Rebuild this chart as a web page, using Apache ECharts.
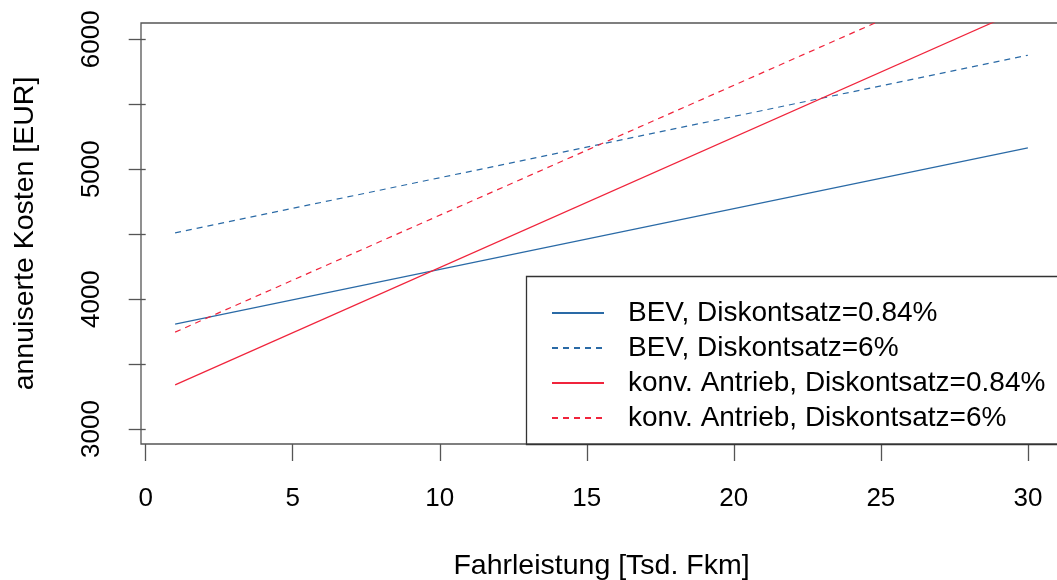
<!DOCTYPE html>
<html>
<head>
<meta charset="utf-8">
<script src="https://cdn.jsdelivr.net/npm/echarts@6/dist/echarts.min.js"></script>
<style>html,body{margin:0;padding:0;background:#fff}#c{width:1057px;height:580px}</style>
</head>
<body>
<div id="c"></div>
<script>
const xValues = [1, 30];
const bev084 = [3807, 5164];
const bev6 = [4510, 5877];
const konv084 = [3340, 6249];
const konv6 = [3746, 6645];
const seriesNames = ['BEV, Diskontsatz=0.84%', 'BEV, Diskontsatz=6%', 'konv. Antrieb, Diskontsatz=0.84%', 'konv. Antrieb, Diskontsatz=6%'];
const xTicks = [0, 5, 10, 15, 20, 25, 30];
const yTicks = [3000, 3500, 4000, 4500, 5000, 5500, 6000];
const yLabels = [3000, 4000, 5000, 6000];
const xTitle = 'Fahrleistung [Tsd. Fkm]';
const yTitle = 'annuiserte Kosten [EUR]';

const BLUE = '#2a6aa6', RED = '#f0243c';
const FONT = 'Liberation Sans, Arial, sans-serif';
const pair = (ys) => xValues.map((x, i) => [x, ys[i]]);
const mk = (name, ys, color, type) => ({
  name, type: 'line', data: pair(ys), symbol: 'none', clip: true, animation: false,
  lineStyle: { color, width: 1.2, type: type === 'dashed' ? [6, 5] : 'solid' },
  itemStyle: { color }
});

const chart = echarts.init(document.getElementById('c'), null, { renderer: 'canvas' });
chart.setOption({
  animation: false,
  textStyle: { fontFamily: FONT },
  grid: { left: 141, top: 23, right: -5, bottom: 136, outerBoundsMode: 'none', containLabel: false,
          show: true, borderColor: '#555', borderWidth: 1.3, backgroundColor: 'transparent' },
  xAxis: {
    type: 'value', min: -0.16, max: 31.16,
    name: xTitle, nameLocation: 'middle', nameGap: 108,
    nameTextStyle: { fontSize: 28.5, color: '#000', fontFamily: FONT },
    axisLine: { show: false },
    splitLine: { show: false },
    axisTick: { show: true, length: 17, customValues: xTicks, lineStyle: { color: '#555', width: 1.3 } },
    axisLabel: { customValues: xTicks, fontSize: 26, color: '#000', margin: 42, fontFamily: FONT, formatter: (v) => String(v) }
  },
  yAxis: {
    type: 'value', min: 2885, max: 6125,
    name: yTitle, nameLocation: 'middle', nameGap: 101, nameRotate: 90,
    nameTextStyle: { fontSize: 28.5, color: '#000', fontFamily: FONT },
    axisLine: { show: false },
    splitLine: { show: false },
    axisTick: { show: true, length: 17, customValues: yTicks, lineStyle: { color: '#555', width: 1.3 } },
    axisLabel: { customValues: yLabels, fontSize: 26, color: '#000', rotate: 90, margin: 36, fontFamily: FONT, formatter: (v) => String(v) }
  },
  legend: {
    orient: 'vertical', left: 546, top: 293,
    itemWidth: 52, itemHeight: 14, itemGap: 5,
    data: seriesNames,
    itemStyle: { opacity: 0 },
    textStyle: { fontSize: 28, color: '#000', fontFamily: FONT, lineHeight: 30, padding: [0, 0, 0, 19] },
    selectedMode: false
  },
  graphic: [{
    type: 'rect', z: 100, silent: true,
    shape: { x: 526.5, y: 276.5, width: 600, height: 168 },
    style: { fill: 'none', stroke: '#333', lineWidth: 1.3 }
  }],
  series: [
    mk(seriesNames[0], bev084, BLUE, 'solid'),
    mk(seriesNames[1], bev6, BLUE, 'dashed'),
    mk(seriesNames[2], konv084, RED, 'solid'),
    mk(seriesNames[3], konv6, RED, 'dashed')
  ]
});
</script>
</body>
</html>
